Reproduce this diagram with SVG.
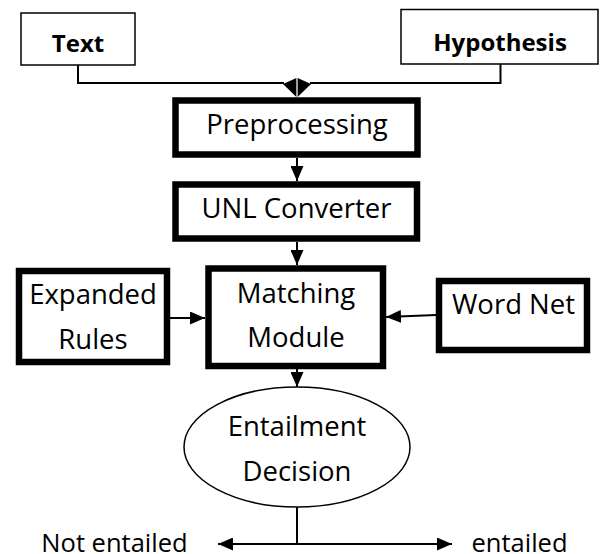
<svg xmlns="http://www.w3.org/2000/svg" width="600" height="554" viewBox="0 0 600 554">
  <defs>
    <style>
      .thin { fill: #ffffff; stroke: #000000; stroke-width: 1.5; }
      .thick { fill: #ffffff; stroke: #000000; stroke-width: 6.5; }
      .lbl { font-family: "Open Sans", "Liberation Sans", sans-serif; font-size: 27.5px; fill: #000000; text-anchor: middle; }
      .bold { font-family: "Open Sans", "Liberation Sans", sans-serif; font-size: 24px; font-weight: bold; fill: #000000; text-anchor: middle; }
      .out { font-family: "Open Sans", "Liberation Sans", sans-serif; font-size: 25.5px; fill: #000000; text-anchor: middle; }
      .wire { fill: none; stroke: #000000; stroke-width: 2; }
      .arrow { fill: none; stroke: #000000; stroke-width: 2; marker-end: url(#head); }
    </style>
    <marker id="head" markerUnits="userSpaceOnUse" markerWidth="15" markerHeight="13" refX="15" refY="6.5" orient="auto">
      <path d="M0,0 L15,6.5 L0,13 Z" fill="#000000"/>
    </marker>
  </defs>

  <!-- connectors -->
  <g id="connectors">
    <polyline class="wire" points="78,65 78,83 284,83"/>
    <polyline class="wire" points="500.5,64 500.5,83 310,83"/>
    <polygon points="283,84 296.4,78 296.4,97" fill="#000000"/>
    <polygon points="311,84 297.6,78 297.6,97" fill="#000000"/>
    <line class="arrow" x1="297" y1="158" x2="297" y2="181"/>
    <line class="arrow" x1="297" y1="242" x2="297" y2="265"/>
    <line class="arrow" x1="170" y1="318" x2="205" y2="318"/>
    <line class="arrow" x1="436" y1="315" x2="386" y2="317"/>
    <line class="arrow" x1="297" y1="369" x2="297" y2="387"/>
    <line class="wire" x1="297" y1="507" x2="297" y2="544"/>
    <line class="arrow" x1="297" y1="544" x2="218" y2="544"/>
    <line class="arrow" x1="297" y1="544" x2="452" y2="544"/>
  </g>

  <!-- input nodes -->
  <g id="text-node">
    <rect class="thin" x="21" y="13" width="114" height="52"/>
    <text class="bold" x="78" y="52">Text</text>
  </g>
  <g id="hypothesis-node">
    <rect class="thin" x="401" y="9.5" width="197" height="54.5"/>
    <text class="bold" x="500" y="51">Hypothesis</text>
  </g>

  <!-- processing pipeline -->
  <g id="preprocessing-node">
    <rect class="thick" x="175.5" y="100.5" width="242" height="54"/>
    <text class="lbl" x="297" y="134">Preprocessing</text>
  </g>
  <g id="unl-converter-node">
    <rect class="thick" x="175.5" y="184.5" width="241.5" height="54"/>
    <text class="lbl" x="296.5" y="218">UNL Converter</text>
  </g>
  <g id="matching-module-node">
    <rect class="thick" x="208.5" y="268.5" width="174.5" height="97.5"/>
    <text class="lbl" x="296" y="303">Matching</text>
    <text class="lbl" x="296" y="347">Module</text>
  </g>
  <g id="expanded-rules-node">
    <rect class="thick" x="19" y="271" width="148" height="91"/>
    <text class="lbl" x="93" y="304">Expanded</text>
    <text class="lbl" x="93" y="349">Rules</text>
  </g>
  <g id="word-net-node">
    <rect class="thick" x="439" y="281" width="148" height="69"/>
    <text class="lbl" x="513.5" y="314">Word Net</text>
  </g>

  <!-- decision -->
  <g id="entailment-decision-node">
    <ellipse class="thin" cx="297" cy="447" rx="113" ry="60"/>
    <text class="lbl" x="297" y="436">Entailment</text>
    <text class="lbl" x="297" y="481">Decision</text>
  </g>
  <g id="not-entailed-label">
    <text class="out" x="114.5" y="552">Not entailed</text>
  </g>
  <g id="entailed-label">
    <text class="out" x="519.5" y="552">entailed</text>
  </g>
</svg>
